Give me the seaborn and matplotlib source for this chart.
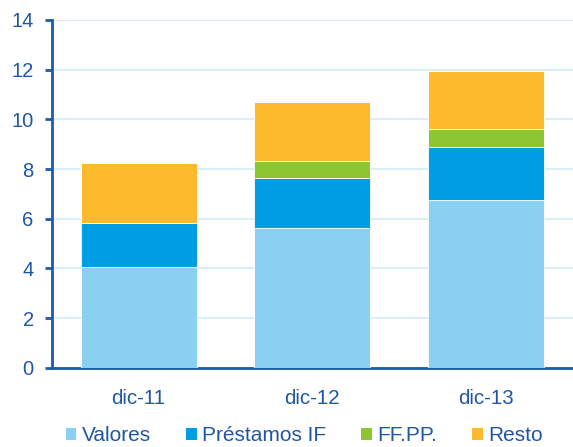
import numpy as np
import matplotlib
matplotlib.use('Agg')
import matplotlib.pyplot as plt
import seaborn as sns
from matplotlib.patches import Patch

categories = ['dic-11', 'dic-12', 'dic-13']
valores = [4.05, 5.63, 6.76]
prestamos = [1.79, 2.02, 2.13]
ffpp = [0.0, 0.67, 0.72]
resto = [2.41, 2.36, 2.32]

series = [('Valores', valores, '#89D0F1'),
          ('Préstamos IF', prestamos, '#009FE3'),
          ('FF.PP.', ffpp, '#8DC632'),
          ('Resto', resto, '#FDBA2D')]

sns.set_style('white')
plt.rcParams['font.family'] = ['Liberation Sans', 'DejaVu Sans']
text_col = '#1F56A5'
axis_col = '#1B5BAA'

fig = plt.figure(figsize=(5.73, 4.47), dpi=100)
ax = fig.add_axes([0.0902, 0.1774, 0.9098, 0.7779])

bottom = np.zeros(len(categories))
for name, vals, col in series:
    sns.barplot(x=categories, y=vals, bottom=bottom, color=col, width=0.667,
                edgecolor='#FFFFFF', linewidth=0.6, saturation=1, ax=ax, zorder=3)
    bottom = bottom + np.array(vals)

ax.set_xlim(-0.5, 2.5)
ax.set_ylim(0, 14)
ax.set_yticks(range(0, 15, 2))
ax.yaxis.grid(True, color='#D4EBF7', linewidth=1.2, zorder=0)
ax.set_axisbelow(True)

for s in ['top', 'right']:
    ax.spines[s].set_visible(False)
for s in ['left', 'bottom']:
    ax.spines[s].set_color(axis_col)
    ax.spines[s].set_linewidth(2)

ax.set_xticks([-0.5, 0.5, 1.5, 2.5], minor=True)
ax.tick_params(axis='x', which='major', length=0, pad=15, labelsize=14.8, labelcolor=text_col)
ax.tick_params(axis='x', which='minor', length=5, width=2, color=axis_col, direction='out')
ax.tick_params(axis='y', length=5, width=2, color=axis_col, pad=8, labelsize=14.5,
               labelcolor=text_col, left=True)

handles = [Patch(facecolor=c, edgecolor='none', label=n) for n, _, c in series]
fig.legend(handles=handles, loc='center', bbox_to_anchor=(0.531, 0.025), ncol=4,
           frameon=False, fontsize=15, handlelength=0.5, handleheight=0.5,
           handletextpad=0.25, columnspacing=1.7, labelcolor=text_col)

fig.savefig('out.png', dpi=100)
